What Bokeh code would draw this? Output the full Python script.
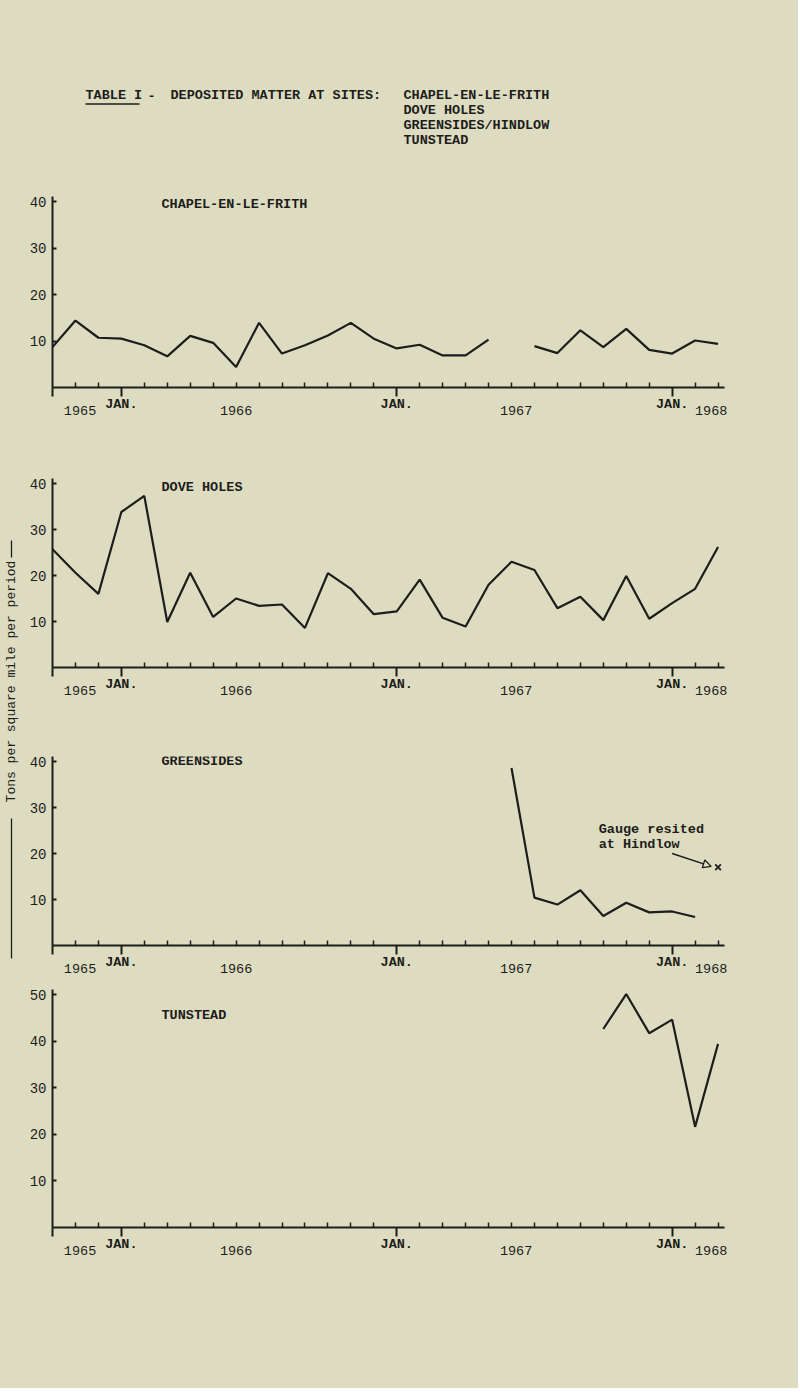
import math
import numpy as np
from bokeh.plotting import figure
from bokeh.models import (Range1d, FixedTicker, Label, Arrow, NormalHead, ColumnDataSource,
                          LinearAxis)
from bokeh.layouts import row, column
from bokeh.embed import file_html
from bokeh.resources import INLINE

# ---------------- data ----------------
period = list(range(30))            # monthly periods, Oct 1965 .. Mar 1968
jan_ticks = [3, 15, 27]
year_labels = ["1965", "1966", "1967", "1968"]
year_pos = [1.2, 8.0, 20.2, 28.7]

chapel = [8.7, 14.4, 10.7, 10.5, 9.1, 6.7, 11.1, 9.6, 4.4, 13.9, 7.3, 9.1, 11.2, 13.9, 10.5,
          8.4, 9.2, 6.9, 6.9, 10.3, None, 8.9, 7.4, 12.3, 8.7, 12.6, 8.1, 7.3, 10.1, 9.4]
dove = [25.7, 20.6, 16.0, 33.8, 37.3, 9.9, 20.6, 11.0, 15.0, 13.4, 13.7, 8.6, 20.5, 17.1, 11.6,
        12.2, 19.1, 10.8, 8.9, 18.0, 23.0, 21.2, 12.9, 15.4, 10.3, 19.9, 10.6, 14.0, 17.1, 26.2]
greensides = [None] * 20 + [38.6, 10.4, 8.9, 12.0, 6.4, 9.3, 7.2, 7.4, 6.2, None]
hindlow = [None] * 29 + [17.0]
tunstead = [None] * 24 + [42.6, 50.1, 41.7, 44.6, 21.6, 39.4]

BG = "#dddcc1"
INK = "#1d1d1b"
FONT = "Liberation Mono"
STY = {"background-color": BG}

W_LEFT = 26
W_MAIN = 772
B_LEFT = 26          # frame left at page x 52
PX_PER_PERIOD = 22.95
FRAME_W = 672
B_RIGHT = W_MAIN - B_LEFT - FRAME_W
X_END = FRAME_W / PX_PER_PERIOD
EXT = 5              # frame extends a few px above the top tick


def arr(v):
    return np.array([np.nan if a is None else a for a in v], dtype=float)


def make_panel(name, series, ymax, yticks, fig_top, fig_bottom, ymax_px, zero_px,
               name_center_px, extra=None):
    height = fig_bottom - fig_top
    frame_top = ymax_px - EXT
    top = frame_top - fig_top
    bottom = fig_bottom - zero_px
    ppu = (zero_px - ymax_px) / ymax
    y_end = (zero_px - frame_top) / ppu
    p = figure(width=W_MAIN, height=height, title=None,
               x_range=Range1d(0, X_END), y_range=Range1d(0, y_end),
               output_backend="svg", toolbar_location=None,
               min_border_left=B_LEFT, min_border_right=B_RIGHT,
               min_border_top=top, min_border_bottom=bottom,
               background_fill_color=BG, border_fill_color=BG,
               outline_line_color=None, styles=STY)
    p.xgrid.visible = False
    p.ygrid.visible = False

    # x axis
    xa = p.xaxis[0]
    xa.ticker = FixedTicker(ticks=[0] + jan_ticks,
                            minor_ticks=[i for i in period if i not in [0] + jan_ticks])
    xa.major_label_overrides = {0: "", 3: "JAN.", 15: "JAN.", 27: "JAN."}
    xa.major_tick_in = 0
    xa.major_tick_out = 9
    xa.minor_tick_in = 5
    xa.minor_tick_out = 0
    xa.axis_line_width = 2
    xa.axis_line_color = INK
    xa.major_tick_line_width = 2
    xa.major_tick_line_color = INK
    xa.minor_tick_line_width = 1.5
    xa.minor_tick_line_color = INK
    xa.major_label_standoff = 0
    xa.major_label_text_font = FONT
    xa.major_label_text_font_size = "13.5px"
    xa.major_label_text_font_style = "bold"
    xa.major_label_text_color = INK

    # year labels: a second, line-less axis below
    ya2 = LinearAxis(ticker=FixedTicker(ticks=year_pos, minor_ticks=[]),
                     major_label_overrides=dict(zip(year_pos, year_labels)),
                     axis_line_color=None, major_tick_line_color=None,
                     minor_tick_line_color=None, major_tick_in=0, major_tick_out=0,
                     minor_tick_in=0, minor_tick_out=0, major_label_standoff=-9,
                     major_label_text_font=FONT, major_label_text_font_size="13.5px",
                     major_label_text_color=INK)
    p.add_layout(ya2, "below")

    # y axis
    ya = p.yaxis[0]
    ya.ticker = FixedTicker(ticks=yticks, minor_ticks=[])
    ya.major_tick_in = 4
    ya.major_tick_out = 0
    ya.minor_tick_in = 0
    ya.minor_tick_out = 0
    ya.axis_line_width = 2
    ya.axis_line_color = INK
    ya.major_tick_line_width = 2
    ya.major_tick_line_color = INK
    ya.major_label_standoff = 6
    ya.major_label_text_font = FONT
    ya.major_label_text_font_size = "14px"
    ya.major_label_text_color = INK

    src = ColumnDataSource(dict(x=period, y=arr(series)))
    p.line("x", "y", source=src, line_width=2.2, line_color=INK)

    p.add_layout(Label(x=4.75, y=(zero_px - name_center_px) / ppu, text=name,
                       text_align="left", text_baseline="middle", text_font=FONT,
                       text_font_size="13.5px", text_font_style="bold", text_color=INK))
    if extra:
        extra(p, ppu, zero_px)
    return p


# ---------------- header ----------------
HDR_H = 170
hdr = figure(width=W_MAIN, height=HDR_H, title=None,
             x_range=Range1d(W_LEFT + B_LEFT, W_LEFT + B_LEFT + FRAME_W),
             y_range=Range1d(HDR_H, 0), output_backend="svg", toolbar_location=None,
             x_axis_type=None, y_axis_type=None,
             min_border_left=B_LEFT, min_border_right=B_RIGHT,
             min_border_top=0, min_border_bottom=0,
             background_fill_color=BG, border_fill_color=BG, outline_line_color=None,
             styles=STY)
hdr.xgrid.visible = False
hdr.ygrid.visible = False


def hlabel(x, y, t):
    hdr.add_layout(Label(x=x, y=y, text=t, text_align="left", text_baseline="middle",
                         text_font=FONT, text_font_size="13.5px", text_font_style="bold",
                         text_color=INK))


hlabel(85, 95, "TABLE I")
hlabel(147, 95, "-")
hlabel(170, 95, "DEPOSITED MATTER AT SITES:")
sites = ["CHAPEL-EN-LE-FRITH", "DOVE HOLES", "GREENSIDES/HINDLOW", "TUNSTEAD"]
for k, s in enumerate(sites):
    hlabel(403, 95 + 15 * k, s)
hdr.line([85, 139], [103.5, 103.5], line_width=1.3, line_color=INK)

# ---------------- panels ----------------
p1 = make_panel("CHAPEL-EN-LE-FRITH", chapel, 40, [10, 20, 30, 40],
                170, 440, 201, 387, 203.5)
p2 = make_panel("DOVE HOLES", dove, 40, [10, 20, 30, 40],
                440, 720, 483, 667, 487)


def greens_extra(p, ppu, zero_px):
    hx = period[29]
    hy = hindlow[29]
    p.scatter([hx], [hy], marker="x", size=8, line_width=1.8, line_color=INK)
    p.add_layout(Arrow(end=NormalHead(size=8, line_width=1.3, line_color=INK, fill_color=BG),
                       x_start=hx - 2.0, y_start=hy + 3.0, x_end=hx - 0.3, y_end=hy + 0.2,
                       line_width=1.5, line_color=INK))
    for t, cy in (("Gauge resited", 829), ("at Hindlow", 844)):
        p.add_layout(Label(x=23.8, y=(zero_px - cy) / ppu, text=t, text_align="left",
                           text_baseline="middle", text_font=FONT, text_font_size="13.5px",
                           text_font_style="bold", text_color=INK))


p3 = make_panel("GREENSIDES", greensides, 40, [10, 20, 30, 40],
                720, 980, 761, 945, 761, extra=greens_extra)
p4 = make_panel("TUNSTEAD", tunstead, 50, [10, 20, 30, 40, 50],
                980, 1388, 994, 1227, 1014.5)

# ---------------- left strip with the axis title ----------------
TOTAL_H = 1388
left = figure(width=W_LEFT, height=TOTAL_H, title=None, x_range=Range1d(0, W_LEFT),
              y_range=Range1d(TOTAL_H, 0), output_backend="svg", toolbar_location=None,
              x_axis_type=None, y_axis_type=None, min_border=0,
              background_fill_color=BG, border_fill_color=BG, outline_line_color=None,
              styles=STY)
left.xgrid.visible = False
left.ygrid.visible = False
left.add_layout(Label(x=11, y=681, text="Tons per square mile per period", angle=math.pi / 2,
                      text_align="center", text_baseline="middle", text_font=FONT,
                      text_font_size="13px", text_color=INK))
left.line([11, 11], [540, 557], line_width=1.3, line_color=INK)
left.line([11, 11], [818, 958], line_width=1.3, line_color=INK)

layout = row(left, column(hdr, p1, p2, p3, p4, spacing=0, styles=STY), spacing=0, styles=STY)

open("out.html", "w").write(file_html(layout, INLINE))
